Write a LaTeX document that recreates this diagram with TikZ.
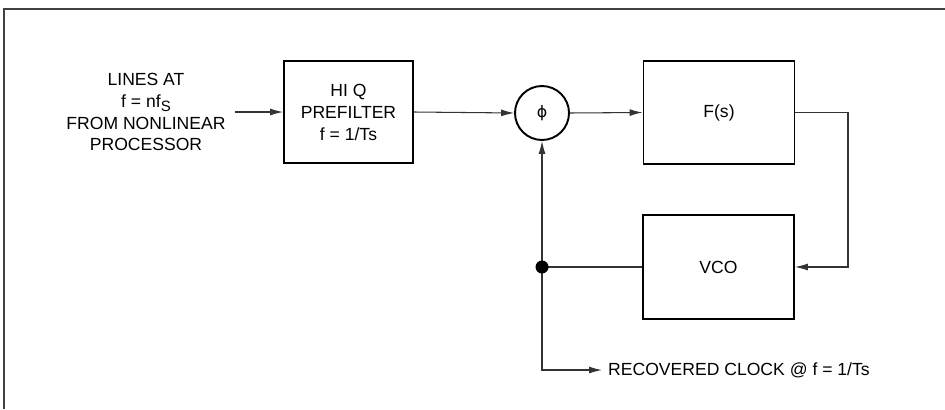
\documentclass[tikz,border=0pt]{standalone}
\usepackage{fontspec}
\setmainfont{Liberation Sans}
\newfontfamily\symfont{DejaVu Sans}
\usetikzlibrary{positioning,arrows.meta}

\begin{document}
\begin{tikzpicture}[
    x=0.02cm, y=-0.02cm,
    block/.style={rectangle, draw=black, line width=1.1pt, align=center,
                  font=\fontsize{10}{12.5}\selectfont},
    mixer/.style={circle, draw=black, line width=1.1pt, minimum size=1.08cm, inner sep=0pt},
    label/.style={align=center, font=\fontsize{10}{12.5}\selectfont},
    arrow/.style={-{Latex[length=2.6mm, width=1.4mm]}, line width=0.6pt, draw=black!80},
    wire/.style={line width=0.6pt, draw=black!80}
]
\useasboundingbox (0,0) rectangle (945,409);

% Frame
\draw[line width=1pt, draw=black!75] (4,409) -- (4,9) -- (945,9);

% Input text
\node[label] (lines) at (146,112) {LINES AT\\f = nf\raisebox{-0.45ex}{\fontsize{8.5}{9}\selectfont S}\\FROM NONLINEAR\\PROCESSOR};

% Blocks
\node[block, minimum width=2.58cm, minimum height=2.04cm] (prefilter) at (348.5,112) {HI Q\\PREFILTER\\f = 1/Ts};
\node[mixer] (phase) at (542,113) {\symfont\fontsize{9}{10}\selectfont ϕ};
\node[block, minimum width=3.02cm, minimum height=2.06cm] (loopf) at (719,112.5) {F(s)};
\node[block, minimum width=3.02cm, minimum height=2.08cm] (vco) at (718.5,267) {VCO};

% Helper points
\coordinate (tap) at (542,267);
\coordinate (corner) at (542,370);
\coordinate (rside) at (848,112.5);
\node[label, anchor=west] (clock) at (602,370) {RECOVERED CLOCK @ f = 1/Ts};

% Signal path
\draw[arrow] (lines.east |- prefilter.west) ++(3,0) -- (prefilter.west);
\draw[arrow] (prefilter.east) -- (phase.west);
\draw[arrow] (phase.east) -- (loopf.west);
\draw[arrow] (loopf.east) -- (rside) |- (vco.east);
\draw[wire] (vco.west) -- (tap);
\draw[arrow] (tap) -- (phase.south);
\draw[arrow] (tap) -- (corner) -- (clock.west);
\fill[black] (tap) circle (0.13cm);

\end{tikzpicture}
\end{document}
